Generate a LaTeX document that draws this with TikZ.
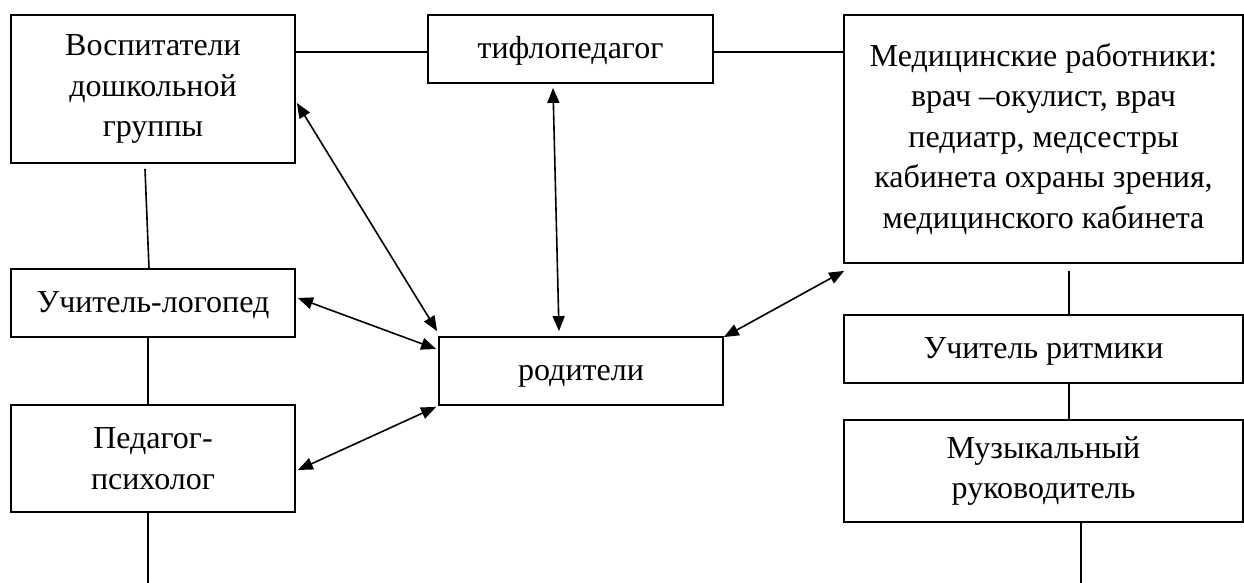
\documentclass[tikz,border=0pt]{standalone}
\usepackage{fontspec}
\setmainfont{Liberation Serif}
\usetikzlibrary{arrows.meta,calc}
\begin{document}
\begin{tikzpicture}[x=1pt,y=-1pt,
 box/.style={draw, line width=1.8pt, rectangle, inner sep=0pt, align=center, font=\fontsize{32}{40.5}\selectfont},
 single/.style={draw, line width=1.8pt, rectangle, inner sep=0pt, font=\fontsize{32}{40.5}\selectfont, text height=26pt, text depth=7pt},
 link/.style={line width=1.6pt},
 biarrow/.style={line width=1.6pt, {Triangle[length=15pt,width=12pt]}-{Triangle[length=15pt,width=12pt]}}]
\useasboundingbox (0,0) rectangle (1244,583);
\node[box, minimum width=284, minimum height=148] (vosp) at (153,89) {Воспитатели\\дошкольной\\группы};
\node[single, minimum width=285, minimum height=68] (tiflo) at (570.5,49) {тифлопедагог};
\node[box, minimum width=399, minimum height=248] (med) at (1043.5,139) {Медицинские работники:\\врач –окулист, врач\\педиатр, медсестры\\кабинета охраны зрения,\\медицинского кабинета};
\node[single, minimum width=284, minimum height=68] (logoped) at (153,303) {Учитель-логопед};
\node[single, minimum width=284, minimum height=68] (rod) at (581,371) {родители};
\node[box, minimum width=284, minimum height=107] (psych) at (153,458.5) {Педагог-\\психолог};
\node[single, minimum width=399, minimum height=68] (ritm) at (1043.5,349) {Учитель ритмики};
\node[box, minimum width=399, minimum height=102] (muz) at (1043.5,471) {Музыкальный\\руководитель};
\coordinate (psychend) at (148,583);
\coordinate (muzend) at (1081,583);
% plain links
\draw[link] ($(tiflo.west)+(-133,3)$) -- ($(tiflo.west)+(0,3)$);
\draw[link] ($(tiflo.east)+(0,3)$) -- ($(med.west)+(0,-87)$);
\draw[link] ($(vosp.south)+(-8,5)$) -- ($(logoped.north)+(-4,0)$);
\draw[link] ($(logoped.south)+(-5,0)$) -- ($(psych.north)+(-5,0)$);
\draw[link] ($(psych.south)+(-5,0)$) -- (psychend);
\draw[link] ($(med.south)+(25.5,7)$) -- ($(ritm.north)+(25.5,0)$);
\draw[link] ($(ritm.south)+(25.5,0)$) -- ($(muz.north)+(25.5,0)$);
\draw[link] ($(muz.south)+(37.5,0)$) -- (muzend);
% arrows
\draw[biarrow] ($(vosp.east)+(1,14)$) -- ($(rod.north west)+(-1,-5)$);
\draw[biarrow] ($(tiflo.south)+(-17.5,4)$) -- ($(rod.north)+(-22,-5)$);
\draw[biarrow] ($(logoped.east)+(2,-5)$) -- ($(rod.west)+(-2,-22)$);
\draw[biarrow] ($(psych.east)+(2,11.5)$) -- ($(rod.south west)+(-2,1)$);
\draw[biarrow] ($(rod.north east)+(0,1)$) -- ($(med.south west)+(1,7)$);
\end{tikzpicture}
\end{document}
